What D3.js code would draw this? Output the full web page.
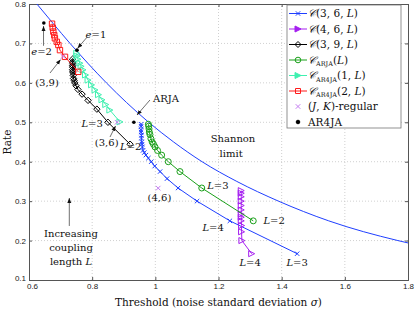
<!DOCTYPE html>
<html>
<head>
<meta charset="utf-8">
<script src="https://cdn.jsdelivr.net/npm/d3@7"></script>
<style>
  body { margin: 0; background: #fff; }
  svg { display: block; }
  .tick text { font-family: "Liberation Sans", Arial, sans-serif; font-size: 8px; fill: #222; }
  .lbl { font-family: "DejaVu Serif", serif; font-size: 10.5px; fill: #111; }
  .note { font-family: "DejaVu Serif", serif; font-size: 10px; fill: #111; }
</style>
</head>
<body>
<div id="chart"></div>
<script>
// ---- data ----
var xTicks = [0.6, 0.8, 1, 1.2, 1.4, 1.6, 1.8];
var xTickLabels = ["0.6", "0.8", "1", "1.2", "1.4", "1.6", "1.8"];
var yTicks = [0.1, 0.2, 0.3, 0.4, 0.5, 0.6, 0.7, 0.8];
var yTickLabels = ["0.1", "0.2", "0.3", "0.4", "0.5", "0.6", "0.7", "0.8"];

// Shannon limit (BI-AWGN)
var shannonSigma = [0.625, 0.677, 0.730, 0.786, 0.845, 0.909, 0.979, 1.058, 1.148, 1.258, 1.390, 1.549, 1.768, 1.80];
var shannonRate  = [0.80, 0.75, 0.70, 0.65, 0.60, 0.55, 0.50, 0.45, 0.40, 0.35, 0.30, 0.25, 0.20, 0.194];

// C(3,6,L)
var c36Sigma = [1.449, 1.236, 1.132, 1.072, 1.037, 1.015, 0.998, 0.987, 0.978, 0.970, 0.965, 0.961, 0.959, 0.958, 0.957, 0.956, 0.956, 0.955, 0.955, 0.955, 0.955];
var c36Rate  = [0.1667, 0.25, 0.30, 0.3333, 0.3571, 0.375, 0.3889, 0.40, 0.4091, 0.4167, 0.4231, 0.4286, 0.4375, 0.4444, 0.45, 0.46, 0.4667, 0.475, 0.48, 0.49, 0.495];

// C(4,6,L)
var c46Sigma = [1.305, 1.274, 1.273, 1.273, 1.272, 1.272, 1.272, 1.272, 1.272, 1.272, 1.272, 1.272, 1.272];
var c46Rate  = [0.1667, 0.20, 0.2222, 0.2381, 0.25, 0.2593, 0.2667, 0.2778, 0.2889, 0.30, 0.3111, 0.32, 0.3267];

// C(3,9,L)
var c39Sigma = [0.920, 0.850, 0.815, 0.787, 0.768, 0.755, 0.749, 0.745, 0.743, 0.741, 0.740, 0.739, 0.739, 0.738, 0.738, 0.738, 0.738, 0.738, 0.738];
var c39Rate  = [0.4444, 0.50, 0.5333, 0.5556, 0.5714, 0.5833, 0.5926, 0.60, 0.6061, 0.6111, 0.6190, 0.625, 0.6296, 0.6333, 0.64, 0.6444, 0.65, 0.6533, 0.66];

// C_ARJA(L)
var arjaSigma = [1.310, 1.147, 1.078, 1.041, 1.020, 1.007, 0.999, 0.994, 0.990, 0.986, 0.983, 0.981, 0.980, 0.979, 0.978];
var arjaRate  = [0.25, 0.3333, 0.375, 0.40, 0.4167, 0.4286, 0.4375, 0.4444, 0.45, 0.4583, 0.4688, 0.475, 0.4833, 0.49, 0.495];

// C_AR4JA(1,L)
var ar4ja1Sigma = [0.888, 0.856, 0.843, 0.831, 0.820, 0.809, 0.798, 0.787, 0.779, 0.771, 0.765, 0.761, 0.755, 0.752, 0.751];
var ar4ja1Rate  = [0.501, 0.531, 0.545, 0.557, 0.570, 0.582, 0.595, 0.607, 0.620, 0.633, 0.642, 0.650, 0.660, 0.668, 0.675];

// C_AR4JA(2,L)
var ar4ja2Sigma = [0.756, 0.714, 0.698, 0.693, 0.688, 0.682, 0.680, 0.677, 0.675, 0.673];
var ar4ja2Rate  = [0.628, 0.666, 0.683, 0.696, 0.704, 0.713, 0.721, 0.730, 0.740, 0.750];

// (J,K)-regular uncoupled
var regSigma = [0.708, 0.879, 1.009];
var regRate  = [0.667, 0.500, 0.333];

// AR4JA / ARJA uncoupled
var arDotSigma = [0.647, 0.752, 0.932];
var arDotRate  = [0.752, 0.683, 0.500];

// ---- layout ----
var W = 415, H = 309;
var x = d3.scaleLinear().domain([0.6, 1.8]).range([29, 408]);
var y = d3.scaleLinear().domain([0.1, 0.8]).range([280, 4]);

var svg = d3.select("#chart").append("svg").attr("width", W).attr("height", H);

var defs = svg.append("defs");
defs.append("clipPath").attr("id", "clip")
    .append("rect").attr("x", 29).attr("y", 4).attr("width", 379).attr("height", 276);
defs.append("marker").attr("id", "arr").attr("viewBox", "0 0 10 10")
    .attr("refX", 10).attr("refY", 5).attr("markerWidth", 5).attr("markerHeight", 5)
    .attr("orient", "auto-start-reverse").attr("markerUnits", "userSpaceOnUse")
    .append("path").attr("d", "M0,1 L10,5 L0,9 Z").attr("fill", "#111");

// grid
var grid = svg.append("g");
grid.selectAll(".gx").data(xTicks.slice(1, -1)).enter().append("line")
    .attr("x1", function (d) { return x(d) }).attr("x2", function (d) { return x(d) })
    .attr("y1", y(0.1)).attr("y2", y(0.8))
    .attr("stroke", "#c4c4c4").attr("stroke-width", 0.8).attr("stroke-dasharray", "1,2");
grid.selectAll(".gy").data(yTicks.slice(1, -1)).enter().append("line")
    .attr("y1", function (d) { return y(d) }).attr("y2", function (d) { return y(d) })
    .attr("x1", x(0.6)).attr("x2", x(1.8))
    .attr("stroke", "#c4c4c4").attr("stroke-width", 0.8).attr("stroke-dasharray", "1,2");

// axes
function styleAxis(g) {
    g.select(".domain").attr("stroke", "#555");
    g.selectAll(".tick line").attr("stroke", "#555");
}
var xAxisG = svg.append("g").attr("transform", "translate(0," + y(0.1) + ")")
    .call(d3.axisBottom(x).tickValues(xTicks).tickSize(-3).tickPadding(3)
        .tickFormat(function (d, i) { return xTickLabels[i] }))
    .call(styleAxis);
svg.append("g").attr("transform", "translate(0," + y(0.8) + ")")
    .call(d3.axisTop(x).tickValues(xTicks).tickSize(-3).tickFormat(""))
    .call(styleAxis);
var yAxisG = svg.append("g").attr("transform", "translate(" + x(0.6) + ",0)")
    .call(d3.axisLeft(y).tickValues(yTicks).tickSize(-3).tickPadding(3)
        .tickFormat(function (d, i) { return yTickLabels[i] }))
    .call(styleAxis);
svg.append("g").attr("transform", "translate(" + x(1.8) + ",0)")
    .call(d3.axisRight(y).tickValues(yTicks).tickSize(-3).tickFormat(""))
    .call(styleAxis);
svg.selectAll(".domain").attr("stroke-width", 1);
// corner labels sit apart, as in the reference
xAxisG.selectAll(".tick text").filter(function (d) { return d === 0.6 }).attr("dx", 3);
yAxisG.selectAll(".tick text").filter(function (d) { return d === 0.1 }).attr("dy", "0.05em");

// marker shapes
function markerPath(kind, s) {
    if (kind === "x") return "M" + (-s) + "," + (-s) + "L" + s + "," + s + "M" + (-s) + "," + s + "L" + s + "," + (-s);
    if (kind === "tri") return "M" + (-s) + "," + (-s) + "L" + s + ",0L" + (-s) + "," + s + "Z";
    if (kind === "dia") return "M0," + (-s) + "L" + s + ",0L0," + s + "L" + (-s) + ",0Z";
    if (kind === "sq") return "M" + (-s) + "," + (-s) + "h" + (2 * s) + "v" + (2 * s) + "h" + (-2 * s) + "Z";
    if (kind === "o" || kind === "dot") return d3.symbol().type(d3.symbolCircle).size(Math.PI * s * s)();
    return "";
}

var series = [
    {sig: c36Sigma, rate: c36Rate, color: "#1f3fff", mk: "x", size: 2.2},
    {sig: c46Sigma, rate: c46Rate, color: "#a51ff0", mk: "tri", size: 3},
    {sig: c39Sigma, rate: c39Rate, color: "#000", mk: "dia", size: 3.2},
    {sig: arjaSigma, rate: arjaRate, color: "#1aa01a", mk: "o", size: 3},
    {sig: ar4ja1Sigma, rate: ar4ja1Rate, color: "#3ff0b0", mk: "tri", size: 3},
    {sig: ar4ja2Sigma, rate: ar4ja2Rate, color: "#ff1a1a", mk: "sq", size: 2.7}
];

var plot = svg.append("g").attr("clip-path", "url(#clip)");

// Shannon limit
var shannon = shannonSigma.map(function (s, i) { return [s, shannonRate[i]] });
plot.append("path").datum(shannon)
    .attr("d", d3.line().curve(d3.curveMonotoneX).x(function (d) { return x(d[0]) }).y(function (d) { return y(d[1]) }))
    .attr("fill", "none").attr("stroke", "#1f3fff").attr("stroke-width", 1);

series.forEach(function (s) {
    var pts = s.sig.map(function (v, i) { return [v, s.rate[i]] });
    plot.append("path").datum(pts)
        .attr("d", d3.line().x(function (d) { return x(d[0]) }).y(function (d) { return y(d[1]) }))
        .attr("fill", "none").attr("stroke", s.color).attr("stroke-width", 1);
    plot.append("g").selectAll("path").data(pts).enter().append("path")
        .attr("transform", function (d) { return "translate(" + x(d[0]) + "," + y(d[1]) + ")" })
        .attr("d", markerPath(s.mk, s.size))
        .attr("fill", "none").attr("stroke", s.color).attr("stroke-width", 1);
});

// regular codes
plot.append("g").selectAll("path").data(regSigma).enter().append("path")
    .attr("transform", function (d, i) { return "translate(" + x(d) + "," + y(regRate[i]) + ")" })
    .attr("d", markerPath("x", 2.3)).attr("stroke", "#c47cf2").attr("stroke-width", 1).attr("fill", "none");

// AR4JA / ARJA dots
plot.append("g").selectAll("circle").data(arDotSigma).enter().append("circle")
    .attr("cx", function (d) { return x(d) }).attr("cy", function (d, i) { return y(arDotRate[i]) })
    .attr("r", 1.8).attr("fill", "#000");

// ---- annotations (data coordinates) ----
var notes = [
    {t: "*e*=2", s: 0.640, r: 0.671},
    {t: "*e*=1", s: 0.812, r: 0.714},
    {t: "(3,9)", s: 0.657, r: 0.592},
    {t: "*L*=3", s: 0.800, r: 0.488},
    {t: "(3,6)", s: 0.846, r: 0.4399},
    {t: "*L*=2", s: 0.922, r: 0.4297},
    {t: "ARJA", s: 1.034, r: 0.551},
    {t: "Shannon", s: 1.246, r: 0.450},
    {t: "limit", s: 1.240, r: 0.412},
    {t: "(4,6)", s: 1.013, r: 0.300},
    {t: "*L*=3", s: 1.198, r: 0.331},
    {t: "*L*=2", s: 1.376, r: 0.242},
    {t: "*L*=4", s: 1.183, r: 0.224},
    {t: "*L*=4", s: 1.300, r: 0.136},
    {t: "*L*=3", s: 1.449, r: 0.136},
    {t: "Increasing", s: 0.733, r: 0.209},
    {t: "coupling", s: 0.733, r: 0.174},
    {t: "length *L*", s: 0.733, r: 0.138}
];
var arrows = [
    [0.646, 0.694, 0.646, 0.744],
    [0.784, 0.716, 0.754, 0.688],
    [0.6665, 0.625, 0.700, 0.659],
    [0.8565, 0.4627, 0.874, 0.4906],
    [0.983, 0.5565, 0.942, 0.5185],
    [0.7276, 0.237, 0.7276, 0.308]
];

function richText(sel, str) {
    str.split("*").forEach(function (part, i) {
        if (!part) return;
        sel.append("tspan").text(part).attr("font-style", i % 2 ? "italic" : null);
    });
}

notes.forEach(function (n) {
    var t = svg.append("text").attr("class", "note").attr("text-anchor", "middle")
        .attr("x", x(n.s)).attr("y", y(n.r));
    richText(t, n.t);
});
svg.append("g").selectAll("line").data(arrows).enter().append("line")
    .attr("x1", function (d) { return x(d[0]) }).attr("y1", function (d) { return y(d[1]) })
    .attr("x2", function (d) { return x(d[2]) }).attr("y2", function (d) { return y(d[3]) })
    .attr("stroke", "#333").attr("stroke-width", 0.7).attr("marker-end", "url(#arr)");

// axis titles
var xt = svg.append("text").attr("class", "lbl").attr("text-anchor", "middle")
    .attr("x", (x(0.6) + x(1.8)) / 2).attr("y", 306);
richText(xt, "Threshold (noise standard deviation *σ*)");
svg.append("text").attr("class", "lbl").attr("text-anchor", "middle")
    .attr("transform", "translate(11," + ((y(0.1) + y(0.8)) / 2) + ") rotate(-90)").text("Rate");

// ---- legend ----
var legendItems = [
    {name: ["𝒞", "(3, 6, ", "*L*", ")"], color: "#1f3fff", mk: "x", size: 2.2, line: true},
    {name: ["𝒞", "(4, 6, ", "*L*", ")"], color: "#a51ff0", mk: "tri", size: 3, line: true, fill: true},
    {name: ["𝒞", "(3, 9, ", "*L*", ")"], color: "#000", mk: "dia", size: 3, line: true},
    {name: ["𝒞", "_ARJA", "(", "*L*", ")"], color: "#1aa01a", mk: "o", size: 2.8, line: true},
    {name: ["𝒞", "_AR4JA", "(1, ", "*L*", ")"], color: "#3ff0b0", mk: "tri", size: 3, line: true, fill: true},
    {name: ["𝒞", "_AR4JA", "(2, ", "*L*", ")"], color: "#ff1a1a", mk: "sq", size: 2.5, line: true},
    {name: ["(", "*J*", ", ", "*K*", ")-regular"], color: "#c47cf2", mk: "x", size: 2.3, line: false},
    {name: ["AR4JA"], color: "#000", mk: "dot", size: 1.8, line: false, fill: true}
];
var lg = svg.append("g");
lg.append("rect").attr("x", 287).attr("y", 5).attr("width", 114).attr("height", 123)
    .attr("fill", "#fff").attr("stroke", "#777").attr("stroke-width", 0.8);
legendItems.forEach(function (it, i) {
    var cy = 13.5 + i * 15.5;
    if (it.line) lg.append("line").attr("x1", 289).attr("x2", 307).attr("y1", cy).attr("y2", cy)
        .attr("stroke", it.color).attr("stroke-width", 1);
    lg.append("path").attr("transform", "translate(298," + cy + ")").attr("d", markerPath(it.mk, it.size))
        .attr("stroke", it.color).attr("stroke-width", 1).attr("fill", it.fill ? it.color : "none");
    var t = lg.append("text").attr("class", "lbl").attr("x", 308).attr("y", cy + 3.8);
    var shift = 0;
    it.name.forEach(function (p) {
        var ts;
        if (p.charAt(0) === "_") {
            ts = t.append("tspan").text(p.slice(1)).attr("font-size", "6.5px").attr("dy", 2.5);
            shift = 2.5;
            return;
        } else if (p.charAt(0) === "*") {
            ts = t.append("tspan").text(p.slice(1, -1)).attr("font-style", "italic");
        } else {
            ts = t.append("tspan").text(p).attr("font-style", p === "𝒞" ? "italic" : null);
        }
        if (shift) { ts.attr("dy", -shift); shift = 0; }
    });
});
</script>
</body>
</html>
